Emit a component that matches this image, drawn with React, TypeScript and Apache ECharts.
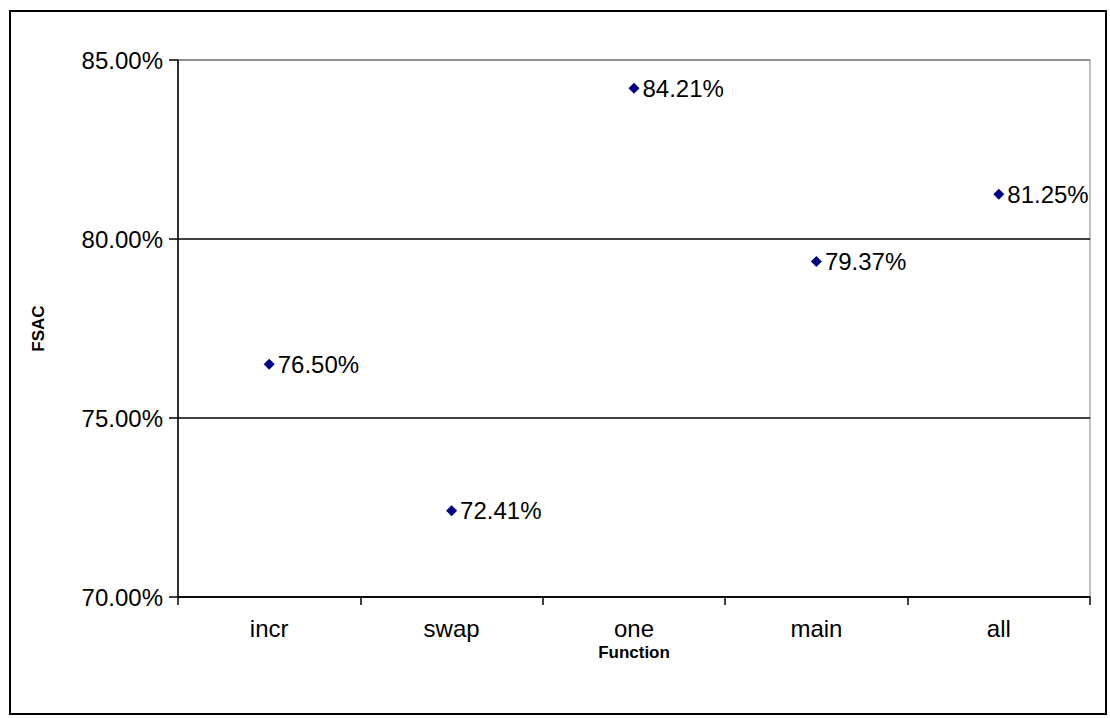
import React, { useEffect, useRef } from "react";
import * as echarts from "echarts";

const categories = ["incr", "swap", "one", "main", "all"];
const fsacValues = [76.5, 72.41, 84.21, 79.37, 81.25];
const yMin = 70;
const yMax = 85;
const yInterval = 5;

export default function App() {
  const ref = useRef<HTMLDivElement>(null);
  useEffect(() => {
    if (!ref.current) return;
    const chart = echarts.init(ref.current, null, { renderer: "svg" });
    const font = "Liberation Sans, Arial, sans-serif";
    chart.setOption({
      animation: false,
      backgroundColor: "#ffffff",
      graphic: [
        {
          type: "rect",
          shape: { x: 10, y: 11, width: 1096, height: 703 },
          style: { fill: "none", stroke: "#000", lineWidth: 2 },
          z: 100,
        },
      ],
      grid: {
        left: 178,
        top: 60,
        width: 912,
        height: 537,
        show: true,
        borderColor: "#808080",
        borderWidth: 1,
        backgroundColor: "transparent",
      },
      xAxis: {
        type: "category",
        data: categories,
        boundaryGap: true,
        name: "Function",
        nameLocation: "middle",
        nameGap: 47,
        nameMoveOverlap: false,
        nameTextStyle: { fontFamily: font, fontSize: 17, fontWeight: "bold", color: "#000" },
        axisLine: { show: true, lineStyle: { color: "#000", width: 1.5 } },
        axisTick: { show: true, alignWithLabel: false, length: 8, lineStyle: { color: "#000", width: 1.5 } },
        axisLabel: { fontFamily: font, fontSize: 24, color: "#000", margin: 19 },
        splitLine: { show: false },
      },
      yAxis: {
        type: "value",
        min: yMin,
        max: yMax,
        interval: yInterval,
        name: "FSAC",
        nameLocation: "middle",
        nameGap: 131,
        nameMoveOverlap: false,
        nameRotate: 90,
        nameTextStyle: { fontFamily: font, fontSize: 17, fontWeight: "bold", color: "#000" },
        axisLine: { show: true, lineStyle: { color: "#000", width: 1.5 } },
        axisTick: { show: true, length: 9, lineStyle: { color: "#000", width: 1.5 } },
        axisLabel: {
          fontFamily: font,
          fontSize: 24,
          color: "#000",
          margin: 15,
          formatter: (v: number) => v.toFixed(2) + "%",
        },
        splitLine: {
          show: true,
          lineStyle: { color: ["#000", "#000", "#000", "#808080"], width: 1.5 },
        },
      },
      series: [
        {
          type: "scatter",
          data: fsacValues,
          symbol: "diamond",
          symbolSize: 11,
          itemStyle: { color: "#000080", opacity: 1 },
          label: {
            show: true,
            position: "right",
            distance: 3,
            fontFamily: font,
            fontSize: 24,
            color: "#000",
            formatter: (p: any) => Number(p.value).toFixed(2) + "%",
          },
        },
      ],
    });
    return () => chart.dispose();
  }, []);
  return (
    <div
      ref={ref}
      style={{ position: "fixed", left: 0, top: 0, width: 1110, height: 718 }}
    />
  );
}
